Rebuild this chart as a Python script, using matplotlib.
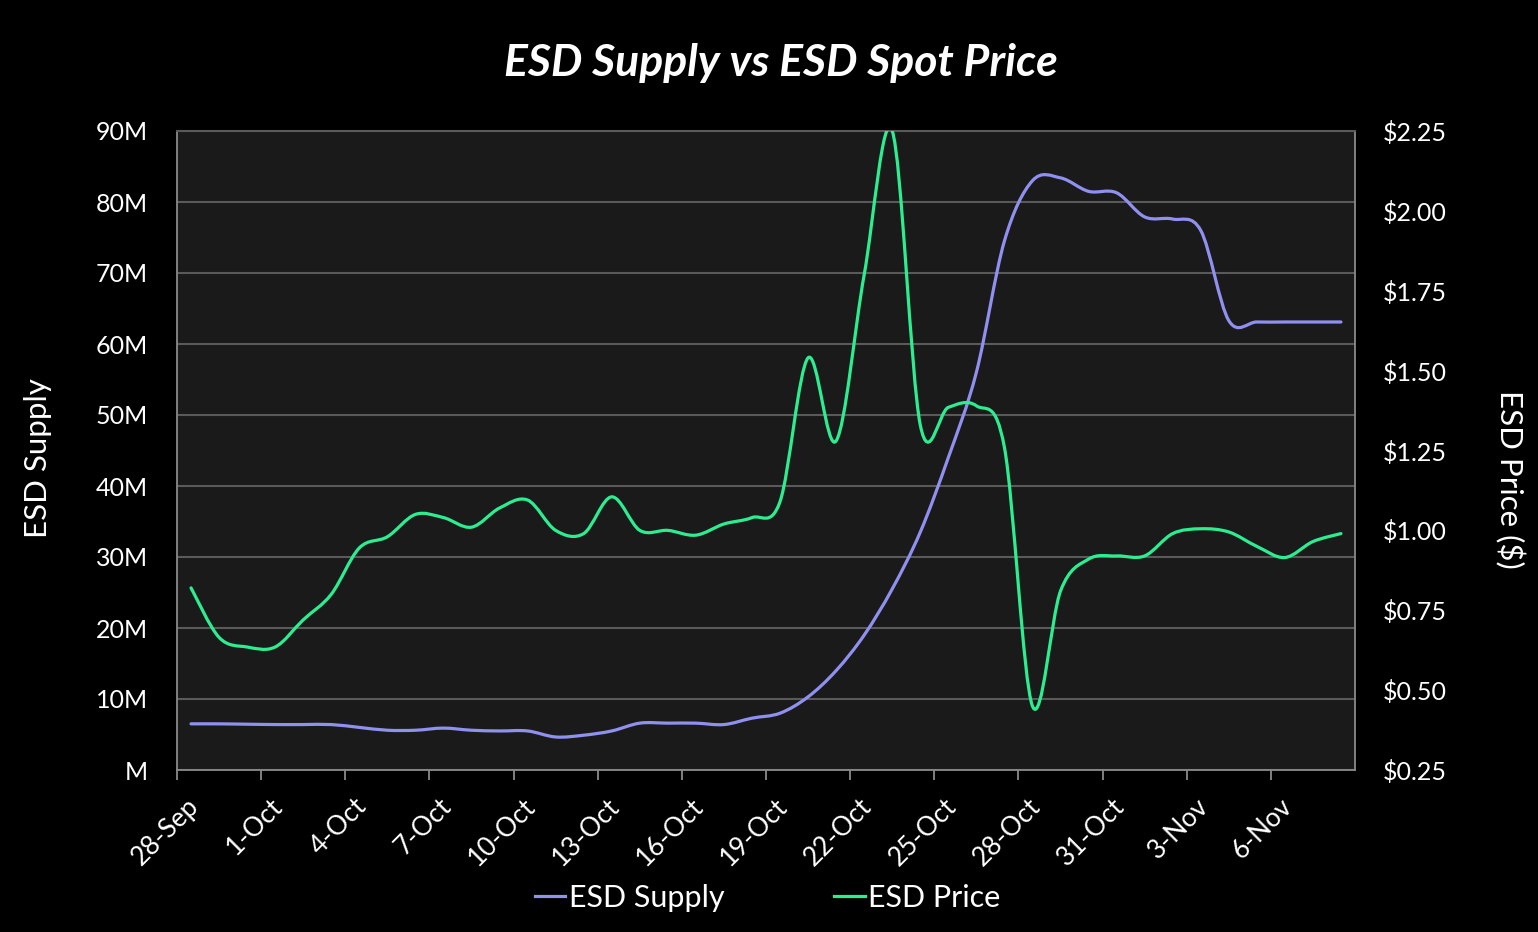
import numpy as np
import pandas as pd
import matplotlib
matplotlib.use("Agg")
import matplotlib.pyplot as plt
from matplotlib.path import Path
from matplotlib.patches import PathPatch
from matplotlib.lines import Line2D
from matplotlib.transforms import ScaledTranslation

plt.rcParams["font.family"] = ["Lato", "DejaVu Sans"]

# one point per day, 28-Sep to 8-Nov
days = pd.date_range("2020-09-28", periods=42)
tick_labels = [f"{d.day}-{d.strftime('%b')}" for d in days[::3]]

# ESD supply, millions
supply = [6.5, 6.5, 6.45, 6.4, 6.4, 6.4, 6.0, 5.6, 5.6, 5.9,
          5.6, 5.5, 5.5, 4.65, 4.9, 5.5, 6.6, 6.6, 6.6, 6.4,
          7.3, 8.0, 10.3, 14.0, 19.0, 25.5, 33.5, 44.0, 56.0, 74.5,
          83.0, 83.4, 81.5, 81.3, 77.9, 77.6, 76.0, 63.3, 63.1, 63.1,
          63.1, 63.1]

# ESD spot price, $
price = [0.82, 0.665, 0.635, 0.635, 0.72, 0.80, 0.945, 0.98, 1.05, 1.04,
         1.01, 1.07, 1.095, 1.00, 0.99, 1.105, 1.00, 1.00, 0.985, 1.02,
         1.04, 1.09, 1.54, 1.28, 1.80, 2.25, 1.33, 1.385, 1.39, 1.26,
         0.45, 0.81, 0.91, 0.92, 0.92, 0.99, 1.005, 0.995, 0.95, 0.915,
         0.965, 0.99]

supply_color = "#9090f0"
price_color = "#2cee90"


def smooth_path(xs, ys):
    # excel-like smoothed line: cubic bezier through every point
    p = np.column_stack([xs, ys]).astype(float)
    ext = np.vstack([p[0], p, p[-1]])
    verts = [p[0]]
    codes = [Path.MOVETO]
    for i in range(len(p) - 1):
        c1 = ext[i + 1] + (ext[i + 2] - ext[i]) / 6
        c2 = ext[i + 2] - (ext[i + 3] - ext[i + 1]) / 6
        verts += [c1, c2, p[i + 1]]
        codes += [Path.CURVE4] * 3
    return Path(verts, codes)


fig = plt.figure(figsize=(15.38, 9.32), dpi=100, facecolor="black")
ax = fig.add_axes([177 / 1538, 1 - 770 / 932, (1355 - 177) / 1538, (770 - 131) / 932])
ax.set_facecolor("#1a1a1a")
ax2 = ax.twinx()

x = np.arange(len(days)) + 0.5
ax.add_patch(PathPatch(smooth_path(x, supply), fill=False, edgecolor=supply_color,
                       lw=2.3, capstyle="round", joinstyle="round", zorder=3))
ax2.add_patch(PathPatch(smooth_path(x, price), fill=False, edgecolor=price_color,
                        lw=2.3, capstyle="round", joinstyle="round", zorder=3))

ax.set_xlim(0, len(days))
ax.set_ylim(0, 90)
ax2.set_ylim(0.25, 2.25)

ax.set_yticks(range(0, 91, 10))
ax.set_yticklabels([f"{v}M" if v else "M" for v in range(0, 91, 10)])
ax2.set_yticks(np.arange(0.25, 2.26, 0.25))
ax2.set_yticklabels([f"${v:.2f}" for v in np.arange(0.25, 2.26, 0.25)])

ax.yaxis.grid(True, color="#5a5a5a", lw=1.5)
ax.set_axisbelow(True)

ax.tick_params(axis="x", length=7.2, width=1.3, color="#8a8a8a",
               labelcolor="white", labelsize=19, pad=16)
ax.tick_params(axis="y", length=0, labelcolor="white", labelsize=18, pad=21)
ax2.tick_params(axis="y", length=0, labelcolor="white", labelsize=18, pad=20)

ax.set_xticks(range(0, len(days), 3))
ax.set_xticklabels(tick_labels, rotation=45, ha="right", va="center",
                   rotation_mode="anchor")
# tick_params resets label transforms, so shift the labels afterwards
offset = ScaledTranslation(18 / 100, 0, fig.dpi_scale_trans)
for t in ax.get_xticklabels():
    t.set_transform(t.get_transform() + offset)

for s in ["left", "bottom", "right"]:
    ax.spines[s].set_color("#8a8a8a")
    ax.spines[s].set_linewidth(1.3)
ax.spines["top"].set_color("#5a5a5a")
ax.spines["top"].set_linewidth(1.5)
for s in ax2.spines.values():
    s.set_visible(False)

fig.text(0.508, 1 - 63 / 932, "ESD Supply vs ESD Spot Price", color="white",
         fontsize=32, fontweight="bold", fontstyle="italic", ha="center", va="center")
fig.text(38 / 1538, 1 - 458 / 932, "ESD Supply", color="white", fontsize=22.5,
         rotation=90, ha="center", va="center")
fig.text(1510 / 1538, 1 - 479 / 932, "ESD Price ($)", color="white", fontsize=22.5,
         rotation=270, ha="center", va="center")

handles = [Line2D([], [], color=supply_color, lw=2.3),
           Line2D([], [], color=price_color, lw=2.3)]
fig.legend(handles, ["ESD Supply", "ESD Price"], loc="center",
           bbox_to_anchor=(0.499, 1 - 898 / 932), ncol=2, frameon=False,
           fontsize=22, handlelength=1.0, handletextpad=0.1, columnspacing=3.6,
           labelcolor="white")

fig.savefig("out.png", dpi=100, facecolor="black")
